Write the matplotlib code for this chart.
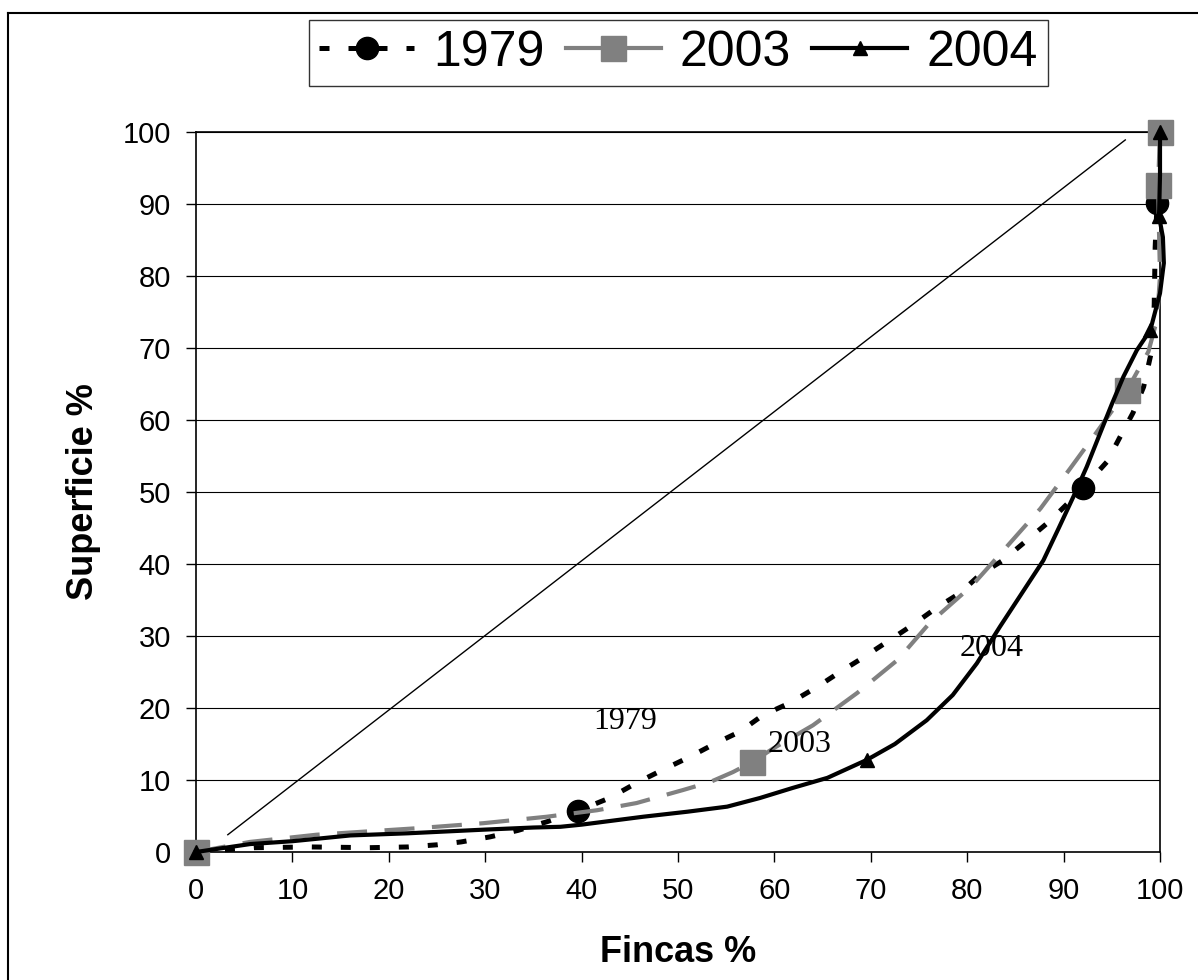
import matplotlib
matplotlib.use('Agg')
import matplotlib.pyplot as plt
from matplotlib.lines import Line2D

W, H, DPI = 1198, 980, 100

# ── Data (Fincas % vs Superficie %) ─────────────────────────────────────────
x_1979 = [0, 6, 12, 18, 22, 25, 27.5, 30.5, 33.4, 36.4, 39.6, 42.9, 45.7,
          48.4, 51.2, 53.9, 56.4, 58.8, 61.6, 64.4, 66.8, 69.2, 71.7, 74.3,
          76.8, 79.3, 81.3, 83.7, 86.2, 88.6, 92.0, 94.5, 95.8, 97.2, 98.3,
          99.2, 99.4, 99.5, 99.7]
y_1979 = [0, 0.6, 0.7, 0.6, 0.7, 1.0, 1.4, 2.1, 3.0, 4.2, 5.7, 7.5, 9.6,
          11.4, 13.2, 15.1, 16.7, 19.0, 20.7, 22.9, 25.0, 27.0, 29.2, 31.5,
          33.9, 36.0, 38.5, 40.5, 43.3, 46.0, 50.5, 54.2, 57.5, 61.0, 64.6,
          70.0, 76.0, 84.0, 90.2]
mk_1979 = [0, 10, 30, 38]

x_2003 = [0, 5.6, 12.5, 22.9, 29.8, 36.4, 41.6, 45.7, 50.5, 53.3, 55.7,
          57.7, 59.9, 64.0, 68.6, 72.8, 76.1, 80.5, 84.1, 87.6, 90.7, 93.1,
          96.6, 98.8, 99.7, 100.0, 99.9, 99.8, 100.0]
y_2003 = [0, 1.4, 2.4, 3.3, 4.0, 4.9, 5.8, 6.8, 8.6, 9.7, 11.1,
          12.5, 14.4, 17.6, 22.1, 26.7, 31.8, 37.0, 42.4, 47.7, 53.3, 57.7,
          64.2, 69.5, 74.0, 80.0, 86.0, 92.6, 100.0]
mk_2003 = [0, 11, 22, 27, 28]

x_2004 = [0, 5.6, 10, 16, 22, 29.8, 35, 37.8, 40, 46.4, 51, 55.1, 58.5,
          61.9, 65.5, 69.6, 72.5, 75.8, 78.5, 81.0, 83.4, 85.7, 87.9, 89.5,
          91.0, 92.4, 93.8, 95.0, 96.2, 97.6, 99.0, 100.0, 100.4, 100.3,
          99.9, 100.0, 100.0]
y_2004 = [0, 1.1, 1.5, 2.3, 2.6, 3.1, 3.4, 3.5, 3.8, 4.9, 5.6, 6.3, 7.5,
          8.9, 10.3, 12.8, 15.0, 18.3, 21.8, 26.2, 31.3, 36.0, 40.5, 45.0,
          49.3, 53.5, 58.2, 62.2, 66.0, 69.7, 72.5, 77.6, 81.8, 85.4,
          88.3, 94.0, 100.0]
mk_2004 = [0, 15, 30, 34, 36]

# equality reference line (drawn shape in the original)
diag_x = [3.3, 96.4]
diag_y = [2.4, 98.9]

# curve labels inside the plot
lbl_text = ['1979', '2003', '2004']
lbl_x = [44.5, 62.6, 82.5]
lbl_y = [18.1, 15.0, 28.3]

ticks = list(range(0, 101, 10))

plt.rcParams['font.family'] = ['Liberation Sans', 'DejaVu Sans']

fig = plt.figure(figsize=(W / DPI, H / DPI), dpi=DPI)
fig.patch.set_facecolor('white')

# outer chart-area border (right/bottom fall outside the picture)
fig.add_artist(Line2D([8 / W, 8 / W], [0, 1 - 13 / H], color='black', lw=1.5))
fig.add_artist(Line2D([8 / W, 1], [1 - 13 / H, 1 - 13 / H], color='black', lw=1.5))

ax = fig.add_axes([196 / W, 1 - 852 / H, (1160 - 196) / W, (852 - 132) / H])
ax.set_xlim(0, 100)
ax.set_ylim(0, 100)

for y in ticks[1:]:
    ax.axhline(y, color='black', lw=0.8, zorder=1)

ax.plot(diag_x, diag_y, color='black', lw=1.0, zorder=2)

ax.plot(x_1979, y_1979, color='black', lw=3.6, ls=(0, (2.0, 3.8)),
        marker='o', markersize=16, markevery=mk_1979, mec='black',
        mfc='black', label='1979', zorder=3, clip_on=False)
ax.plot(x_2003, y_2003, color='#808080', lw=3.0, ls=(0, (7.2, 4.2)),
        marker='s', markersize=18, markevery=mk_2003, mec='#808080',
        mfc='#808080', label='2003', zorder=4, clip_on=False)
ax.plot(x_2004, y_2004, color='black', lw=3.0, ls='-',
        marker='^', markersize=10, markevery=mk_2004, mec='black',
        mfc='black', label='2004', zorder=5, clip_on=False)

for t, x, y in zip(lbl_text, lbl_x, lbl_y):
    ax.text(x, y, t, ha='center', va='center', fontsize=23,
            family=['Liberation Serif', 'DejaVu Serif'], zorder=6)

ax.set_xticks(ticks)
ax.set_yticks(ticks)
ax.tick_params(axis='both', direction='out', length=7, width=1,
               labelsize=21, colors='black')
ax.tick_params(axis='x', pad=11)
ax.tick_params(axis='y', pad=11)
for s in ax.spines.values():
    s.set_linewidth(1.2)
    s.set_color('black')

ax.set_xlabel('Fincas %', fontsize=26, fontweight='bold')
ax.set_ylabel('Superficie %', fontsize=26, fontweight='bold')
ax.xaxis.set_label_coords(0.5, -0.115)
ax.yaxis.set_label_coords(-0.099, 0.5)

leg = ax.legend(loc='center', bbox_to_anchor=(678.5 / W, 1 - 53 / H),
                bbox_transform=fig.transFigure, ncol=3, fontsize=36,
                frameon=True, fancybox=False, edgecolor='black',
                handlelength=1.9, handletextpad=0.38, columnspacing=0.42,
                borderpad=0.2, borderaxespad=0)
leg.get_frame().set_linewidth(1.0)
# the legend sample for 2003 reads as a solid gray bar in the original
leg.get_lines()[1].set_linestyle('-')

fig.savefig('out.png', dpi=DPI, facecolor='white')
